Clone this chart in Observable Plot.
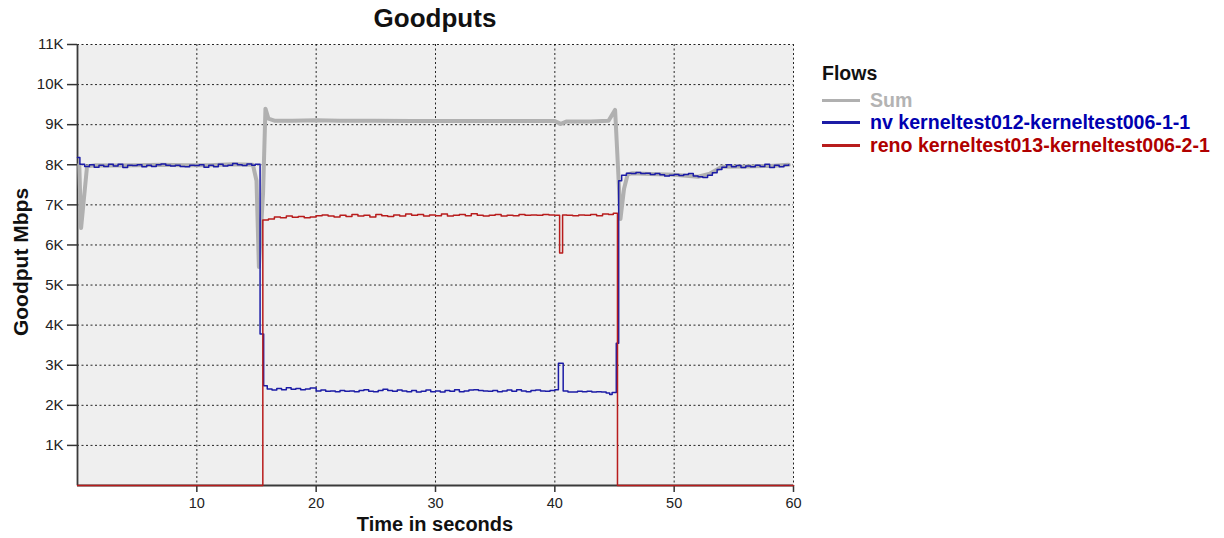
<!DOCTYPE html>
<html>
<head>
<meta charset="utf-8">
<script src="https://cdn.jsdelivr.net/npm/d3@7"></script>
<script src="https://cdn.jsdelivr.net/npm/@observablehq/plot@0.6"></script>
<style>
  html, body { margin: 0; padding: 0; background: #fff; }
  body { width: 1224px; height: 538px; position: relative; overflow: hidden; font-family: "Liberation Sans", Arial, Helvetica, sans-serif; }
  #chart { position: absolute; left: 0; top: 0; }
  .title { position: absolute; left: 285px; width: 300px; top: 3px; text-align: center; font-weight: bold; font-size: 26px; color: #111; }
  .xlabel { position: absolute; left: 285px; width: 300px; top: 513px; text-align: center; font-weight: bold; font-size: 20px; color: #111; }
  .ylabel { position: absolute; left: 21px; top: 262px; transform: translate(-50%, -50%) rotate(-90deg); white-space: nowrap; font-weight: bold; font-size: 21px; color: #111; }
  .legend { position: absolute; left: 822px; top: 62px; }
  .legend .lt { font-weight: bold; font-size: 19.5px; color: #111; height: 24px; margin-bottom: 3px; }
  .legend .it { display: flex; align-items: center; height: 22.5px; font-size: 19.6px; font-weight: bold; }
  .legend .sw { width: 38px; height: 3px; margin-right: 10px; }
</style>
</head>
<body>
<div id="chart"></div>
<div class="title">Goodputs</div>
<div class="xlabel">Time in seconds</div>
<div class="ylabel">Goodput Mbps</div>
<div class="legend" id="legend"></div>
<script>
// ---- data (Mbps vs seconds) ----
const seriesNames = ["Sum", "nv kerneltest012-kerneltest006-1-1", "reno kerneltest013-kerneltest006-2-1"];
const seriesColors = ["#b0b0b0", "#1c1ca6", "#b81c1c"];
const legendTextColors = ["#b3b3b3", "#0000b0", "#b00000"];

const xTicks = [10, 20, 30, 40, 50, 60];
const yTicks = [1000, 2000, 3000, 4000, 5000, 6000, 7000, 8000, 9000, 10000, 11000];

const nvTime = [0, 0.2, 0.6, 1.0, 1.4, 1.8, 2.2, 2.6, 3.0, 3.4, 3.8, 4.2, 4.6, 5.0, 5.4, 5.8, 6.2, 6.6, 7.0, 7.4, 7.8, 8.2, 8.6, 9.0, 9.4, 9.8, 10.2, 10.6, 11.0, 11.4, 11.8, 12.2, 12.6, 13.0, 13.4, 13.8, 14.2, 14.6, 14.9,
  15.3, 15.6, 15.9, 16.3, 16.7, 17.1, 17.5, 17.9, 18.3, 18.7, 19.1, 19.5, 20.0, 20.4, 20.8, 21.2, 21.6, 22.0, 22.4, 22.8, 23.2, 23.6, 24.0, 24.4, 24.8, 25.2, 25.6, 26.0, 26.4, 26.8, 27.2, 27.6, 28.0, 28.4, 28.8, 29.2, 29.6,
  30.0, 30.4, 30.8, 31.2, 31.6, 32.0, 32.4, 32.8, 33.2, 33.6, 34.0, 34.4, 34.8, 35.2, 35.6, 36.0, 36.4, 36.8, 37.2, 37.6, 38.0, 38.4, 38.8, 39.2, 39.6, 40.0, 40.3, 40.7, 41.1, 41.5, 41.9, 42.3, 42.7, 43.1, 43.5, 43.9, 44.3, 44.6, 44.8,
  45.15, 45.35, 45.6, 46.0, 46.4, 46.8, 47.2, 47.6, 48.0, 48.4, 48.8, 49.2, 49.6, 50.0, 50.4, 50.8, 51.2, 51.6, 52.0, 52.4, 52.8, 53.2, 53.6, 54.0, 54.4, 54.8, 55.2, 55.6, 56.0, 56.4, 56.8, 57.2, 57.6, 58.0, 58.4, 58.8, 59.2, 59.6];
const nvValue = [8180, 8010, 7960, 8000, 7940, 7990, 7960, 8010, 7970, 8010, 7930, 7990, 7980, 8000, 7950, 7990, 7960, 8000, 8020, 7990, 7970, 7990, 7960, 7950, 7990, 7980, 8000, 7940, 7990, 7950, 8010, 7970, 7990, 8030, 8000, 7980, 8020, 7990, 8010,
  3780, 2490, 2410, 2380, 2420, 2390, 2440, 2400, 2420, 2390, 2410, 2430, 2360, 2380, 2350, 2360, 2340, 2370, 2350, 2360, 2340, 2370, 2390, 2350, 2340, 2370, 2400, 2370, 2350, 2380, 2360, 2340, 2370, 2330, 2350, 2380, 2340,
  2360, 2330, 2370, 2350, 2390, 2340, 2360, 2380, 2390, 2370, 2360, 2350, 2370, 2340, 2360, 2380, 2350, 2390, 2360, 2340, 2370, 2380, 2360, 2350, 2370, 2390, 3050, 2360, 2330, 2330, 2350, 2340, 2350, 2330, 2340, 2330, 2310, 2270, 2320,
  3550, 7600, 7740, 7790, 7780, 7810, 7780, 7790, 7760, 7780, 7750, 7720, 7740, 7760, 7730, 7760, 7780, 7720, 7700, 7680, 7740, 7800, 7880, 7940, 8000, 7950, 7980, 7930, 7970, 7950, 7990, 7960, 8010, 7930, 7990, 7950, 7990, 8000];

const renoTime = [0, 15.53, 16.0, 16.5, 17.0, 17.5, 18.0, 18.5, 19.0, 19.5, 20.0, 20.5, 21.0, 21.5, 22.0, 22.5, 23.0, 23.5, 24.0, 24.5, 25.0, 25.5, 26.0, 26.5, 27.0, 27.5, 28.0, 28.5, 29.0, 29.5,
  30.0, 30.5, 31.0, 31.5, 32.0, 32.5, 33.0, 33.5, 34.0, 34.5, 35.0, 35.5, 36.0, 36.5, 37.0, 37.5, 38.0, 38.5, 39.0, 39.5, 40.0, 40.4, 40.65, 41.0, 41.5, 42.0, 42.5, 43.0, 43.5, 44.0, 44.5, 44.9, 45.25, 60];
const renoValue = [0, 6620, 6650, 6700, 6680, 6720, 6690, 6710, 6680, 6700, 6730, 6750, 6720, 6700, 6740, 6710, 6760, 6720, 6740, 6700, 6760, 6730, 6710, 6750, 6720, 6770, 6740, 6760, 6720, 6750,
  6730, 6770, 6720, 6740, 6760, 6730, 6780, 6740, 6720, 6740, 6760, 6720, 6740, 6730, 6760, 6740, 6750, 6740, 6760, 6750, 6740, 5800, 6750, 6740, 6730, 6750, 6740, 6760, 6730, 6770, 6760, 6790, 0, 0];

const sumTime = [0.15, 0.3, 0.8, 1.5, 3, 5, 7, 9, 11, 13, 14.7, 15.0, 15.2, 15.55, 15.75, 16.0, 16.5, 18, 20, 22, 25, 28, 30, 35, 40, 40.5, 41, 43, 44.5, 45.05, 45.3, 45.5, 45.8, 46.1, 46.5, 48, 50, 52, 53, 54, 56, 58, 59.6];
const sumValue = [8000, 6420, 7960, 7990, 7980, 7990, 8000, 7990, 7990, 8010, 8000, 7600, 5450, 7300, 9400, 9150, 9100, 9100, 9110, 9100, 9100, 9090, 9090, 9090, 9090, 9020, 9080, 9080, 9100, 9370, 7900, 6650, 7400, 7760, 7790, 7770, 7750, 7700, 7780, 7950, 7960, 7970, 8000];

// ---- build tables ----
const sum = sumTime.map((t, i) => ({t, v: sumValue[i]}));
const nv = nvTime.map((t, i) => ({t, v: nvValue[i]}));
const reno = renoTime.map((t, i) => ({t, v: renoValue[i]}));

const kFmt = d => (d / 1000) + "K";

const chart = Plot.plot({
  width: 1224,
  height: 538,
  marginLeft: 77,
  marginRight: 431,
  marginTop: 44,
  marginBottom: 53,
  style: {fontFamily: '"Liberation Sans", Arial, sans-serif', fontSize: "15px", color: "#222", background: "transparent"},
  x: {domain: [0, 60], ticks: xTicks, label: null},
  y: {domain: [0, 11000], ticks: yTicks, label: null, tickFormat: kFmt},
  marks: [
    Plot.frame({fill: "#efefef", stroke: null}),
    Plot.gridX(xTicks, {stroke: "#000", strokeOpacity: 0.85, strokeDasharray: "2,2.5", strokeWidth: 1}),
    Plot.gridY(yTicks, {stroke: "#000", strokeOpacity: 0.85, strokeDasharray: "2,2.5", strokeWidth: 1}),
    Plot.axisX({ticks: xTicks, tickSize: 7, tickPadding: 5, stroke: "#333", strokeWidth: 1.5, fontSize: 14.5, label: null}),
    Plot.axisY({ticks: yTicks, tickSize: 10, tickPadding: 4, stroke: "#333", strokeWidth: 1.5, fontSize: 15, label: null, tickFormat: kFmt}),
    Plot.ruleX([0], {stroke: "#3a3a3a", strokeWidth: 1.8}),
    Plot.ruleY([0], {stroke: "#3a3a3a", strokeWidth: 1.8}),
    Plot.line(sum, {x: "t", y: "v", stroke: seriesColors[0], strokeWidth: 4, curve: "linear"}),
    Plot.line(nv, {x: "t", y: "v", stroke: seriesColors[1], strokeWidth: 1.5, curve: "step-after"}),
    Plot.line(reno, {x: "t", y: "v", stroke: seriesColors[2], strokeWidth: 1.5, curve: "step-after"})
  ]
});
document.getElementById("chart").appendChild(chart);

const legend = document.getElementById("legend");
const lt = document.createElement("div");
lt.className = "lt"; lt.textContent = "Flows";
legend.appendChild(lt);
seriesNames.forEach((name, i) => {
  const it = document.createElement("div");
  it.className = "it";
  const sw = document.createElement("div");
  sw.className = "sw"; sw.style.background = seriesColors[i];
  const tx = document.createElement("span");
  tx.textContent = name; tx.style.color = legendTextColors[i];
  it.appendChild(sw); it.appendChild(tx);
  legend.appendChild(it);
});
</script>
</body>
</html>
